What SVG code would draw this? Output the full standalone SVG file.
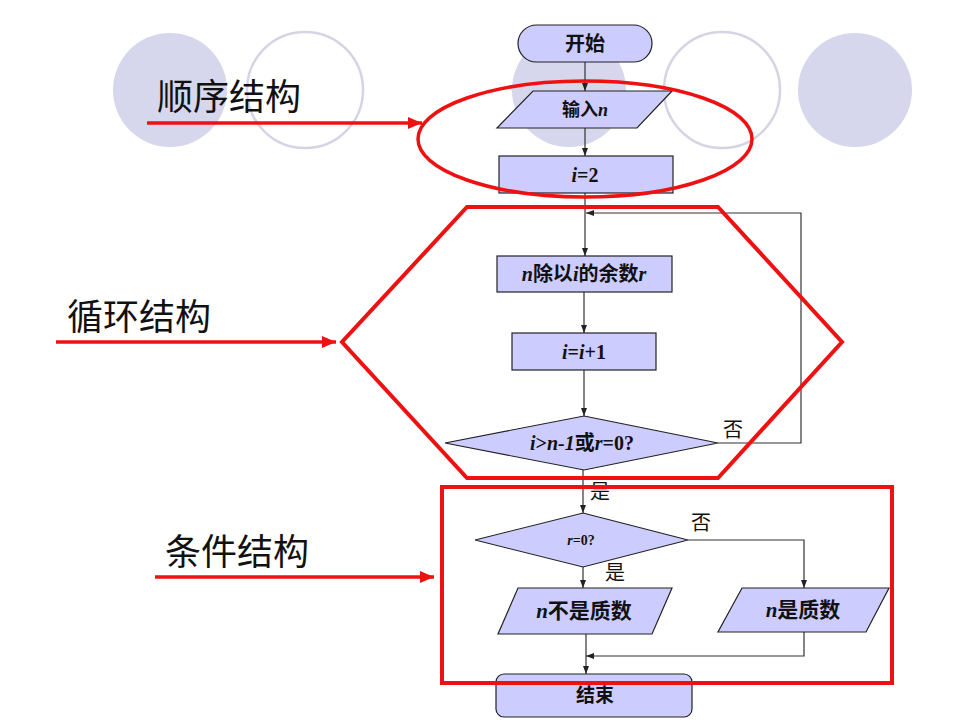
<svg xmlns="http://www.w3.org/2000/svg" width="960" height="720" viewBox="0 0 960 720">
<defs>
<style>
.bgf{fill:#d6d6ec;stroke:none}
.bgo{fill:none;stroke:#d4d4e6;stroke-width:2.5}
.node{fill:#ccccff;stroke:#222;stroke-width:1.2}
.conn{fill:none;stroke:#333;stroke-width:1.2}
.red{fill:none;stroke:#ee1111;stroke-width:4}
.redl{fill:none;stroke:#ee1111;stroke-width:3.5}
.t{font-family:"Liberation Serif","Noto Sans CJK SC",serif;font-weight:bold;fill:#111;text-anchor:middle;dominant-baseline:central}
.it{font-style:italic}
.lab{font-family:"Noto Sans CJK SC",sans-serif;fill:#111;font-size:20px;text-anchor:middle;dominant-baseline:central}
.big{font-family:"Noto Sans CJK SC",sans-serif;fill:#111;font-size:36px}
</style>
<marker id="ah" markerUnits="userSpaceOnUse" markerWidth="8" markerHeight="6" refX="8" refY="3" orient="auto">
<path d="M0,0 L8,3 L0,6 z" fill="#222"/>
</marker>
<marker id="rah" markerUnits="userSpaceOnUse" markerWidth="14" markerHeight="12" refX="14" refY="6" orient="auto">
<path d="M0,0 L14,6 L0,12 z" fill="#ee1111"/>
</marker>
</defs>
<rect width="960" height="720" fill="#ffffff"/>
<g id="background">
<circle class="bgf" cx="170" cy="90" r="57"/>
<circle class="bgo" cx="305" cy="90" r="58"/>
<circle class="bgf" cx="569" cy="90" r="57"/>
<circle class="bgo" cx="722" cy="90" r="58"/>
<circle class="bgf" cx="855" cy="90" r="57"/>
</g>
<g id="connectors">
<path class="conn" d="M585,62 V91" marker-end="url(#ah)"/>
<path class="conn" d="M585,128 V156" marker-end="url(#ah)"/>
<path class="conn" d="M585,193 V256" marker-end="url(#ah)"/>
<path class="conn" d="M584,292 V333" marker-end="url(#ah)"/>
<path class="conn" d="M584,370 V416" marker-end="url(#ah)"/>
<path class="conn" d="M718,443 H801 V213 H586" marker-end="url(#ah)"/>
<path class="conn" d="M583,470 V513" marker-end="url(#ah)"/>
<path class="conn" d="M583,567 V588" marker-end="url(#ah)"/>
<path class="conn" d="M688,540 H804 V588" marker-end="url(#ah)"/>
<path class="conn" d="M586,634 V674" marker-end="url(#ah)"/>
<path class="conn" d="M804,632 V656 H586" marker-end="url(#ah)"/>
<text class="lab" x="733" y="428">否</text>
<text class="lab" x="600" y="490">是</text>
<text class="lab" x="701" y="521">否</text>
<text class="lab" x="615" y="571">是</text>
</g>
<g id="start">
<rect class="node" x="518" y="25" width="134" height="37" rx="18.5"/>
<text class="t" x="585" y="44" font-size="20">开始</text>
</g>
<g id="input">
<polygon class="node" points="533,91 672,91 637,128 497,128"/>
<text class="t" x="585" y="110" font-size="18">输入<tspan class="it">n</tspan></text>
</g>
<g id="init">
<rect class="node" x="499" y="156" width="174" height="37"/>
<text class="t" x="585" y="175" font-size="20"><tspan class="it">i</tspan>=2</text>
</g>
<g id="remainder">
<rect class="node" x="497" y="256" width="175" height="36"/>
<text class="t" x="584" y="274" font-size="20"><tspan class="it">n</tspan>除以<tspan class="it">i</tspan>的余数<tspan class="it">r</tspan></text>
</g>
<g id="increment">
<rect class="node" x="512" y="333" width="144" height="37"/>
<text class="t" x="584" y="352" font-size="20"><tspan class="it">i</tspan>=<tspan class="it">i</tspan>+1</text>
</g>
<g id="loopcheck">
<polygon class="node" points="584,416 718,443 584,470 445,443"/>
<text class="t" x="582" y="443" font-size="20"><tspan class="it">i</tspan>&gt;<tspan class="it">n-1</tspan>或<tspan class="it">r</tspan>=0?</text>
</g>
<g id="rcheck">
<polygon class="node" points="583,513 688,540 583,567 475,540"/>
<text class="t" x="581" y="540" font-size="14"><tspan class="it">r</tspan>=0?</text>
</g>
<g id="notprime">
<polygon class="node" points="518,588 672,588 652,634 498,634"/>
<text class="t" x="584" y="611" font-size="21"><tspan class="it">n</tspan>不是质数</text>
</g>
<g id="prime">
<polygon class="node" points="742,588 889,588 866,632 718,632"/>
<text class="t" x="803" y="610" font-size="21"><tspan class="it">n</tspan>是质数</text>
</g>
<g id="end">
<rect class="node" x="496" y="674" width="196" height="43" rx="8"/>
<text class="t" x="595" y="695" font-size="19">结束</text>
</g>
<g id="annotations">
<ellipse class="redl" cx="585" cy="139" rx="167" ry="58"/>
<polygon class="red" points="467,207 718,207 842,342 718,478 467,478 342,342"/>
<rect class="red" x="442" y="487" width="450" height="196"/>
<line class="redl" x1="147" y1="123" x2="422" y2="123" marker-end="url(#rah)"/>
<line class="redl" x1="56" y1="342" x2="336" y2="342" marker-end="url(#rah)"/>
<line class="redl" x1="155" y1="577" x2="434" y2="577" marker-end="url(#rah)"/>
<text class="big" x="157" y="110">顺序结构</text>
<text class="big" x="67" y="330">循环结构</text>
<text class="big" x="165" y="565">条件结构</text>
</g>
</svg>
